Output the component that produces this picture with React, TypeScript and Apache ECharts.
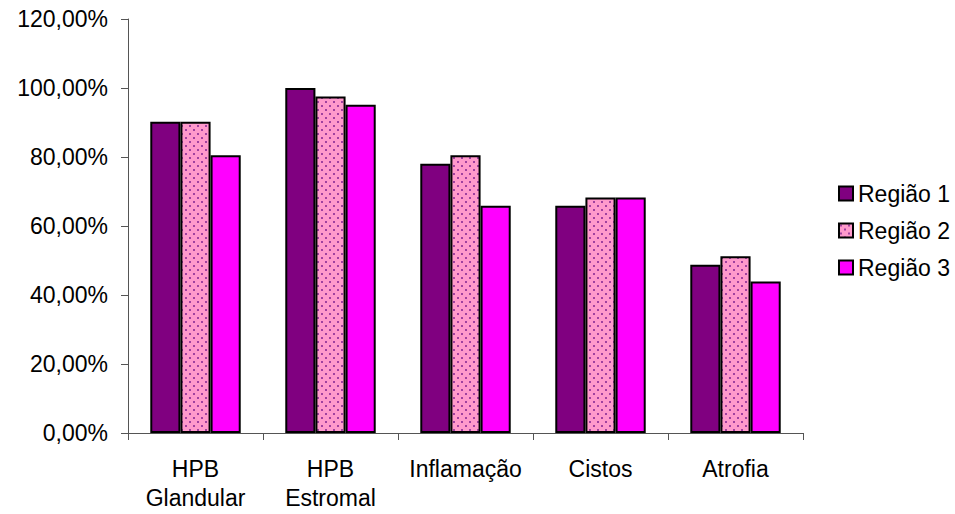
import React, { useEffect, useRef } from "react";
import * as echarts from "echarts";

const categories = ["HPB\nGlandular", "HPB\nEstromal", "Inflamação", "Cistos", "Atrofia"];
const seriesNames = ["Região 1", "Região 2", "Região 3"];
const regiao1 = [90.24, 100, 78.05, 65.85, 48.78];
const regiao2 = [90.24, 97.56, 80.49, 68.29, 51.22];
const regiao3 = [80.49, 95.12, 65.85, 68.29, 43.9];
const yTicks = { min: 0, max: 120, interval: 20 };

function makeDots(): any {
  const c = document.createElement("canvas");
  c.width = 8;
  c.height = 8;
  const ctx = c.getContext("2d")!;
  ctx.fillStyle = "#FF99CC";
  ctx.fillRect(0, 0, 8, 8);
  ctx.fillStyle = "#A0409F";
  ctx.fillRect(1, 1, 2, 2);
  ctx.fillRect(5, 5, 2, 2);
  return { image: c, repeat: "repeat", imageWidth: 8, imageHeight: 8 };
}

export default function App() {
  const ref = useRef<HTMLDivElement>(null);
  useEffect(() => {
    if (!ref.current) return;
    const chart = echarts.init(ref.current, null, { renderer: "svg" });
    const font = "'Liberation Sans', Arial, sans-serif";
    const colors = ["#800080", makeDots(), "#FF00FF"];
    const data = [regiao1, regiao2, regiao3];
    chart.setOption({
      animation: false,
      backgroundColor: "#ffffff",
      textStyle: { fontFamily: font },
      grid: { left: 128, right: 152, top: 19, bottom: 81 },
      legend: {
        orient: "vertical",
        left: 833,
        top: 177,
        itemWidth: 14,
        itemHeight: 14,
        itemGap: 14,
        icon: "rect",
        textStyle: { fontSize: 23, color: "#000", lineHeight: 23, fontFamily: font },
        data: seriesNames,
      },
      xAxis: {
        type: "category",
        data: categories,
        axisLine: { lineStyle: { color: "#555", width: 1 } },
        axisTick: { show: true, length: 7, lineStyle: { color: "#555" } },
        axisLabel: { interval: 0, fontSize: 23, color: "#000", margin: 21, lineHeight: 29, fontFamily: font },
      },
      yAxis: {
        type: "value",
        min: yTicks.min,
        max: yTicks.max,
        interval: yTicks.interval,
        splitLine: { show: false },
        axisLine: { show: true, lineStyle: { color: "#555", width: 1 } },
        axisTick: { show: true, length: 7, inside: false, lineStyle: { color: "#555" } },
        axisLabel: {
          fontSize: 23,
          color: "#000",
          margin: 20,
          fontFamily: font,
          formatter: (v: number) => v.toFixed(2).replace(".", ",") + "%",
        },
      },
      series: seriesNames.map((name, i) => ({
        name,
        type: "bar",
        data: data[i],
        barGap: "0%",
        barCategoryGap: "33%",
        itemStyle: { color: colors[i], borderColor: "#000", borderWidth: 2 },
      })),
    });
    return () => chart.dispose();
  }, []);
  return <div ref={ref} style={{ width: 955, height: 514, position: "absolute", left: 0, top: 0 }} />;
}
